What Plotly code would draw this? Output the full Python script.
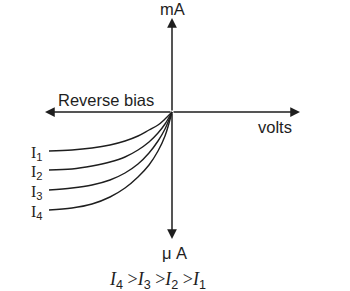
import plotly.graph_objects as go

# Data coordinates: x = volts (arbitrary units, origin at 0), y = current (arbitrary units)
curve_labels = ["1", "2", "3", "4"]
volts = [-123, -100, -80, -62, -47, -34, -23, -14, -7, 0]
current_I1 = [-39, -38, -36, -33, -29, -24, -18, -13, -7, 0]
current_I2 = [-58, -57, -54, -50, -45, -38, -30, -21, -12, 0]
current_I3 = [-78, -76, -73, -68, -61, -52, -41, -29, -17, 0]
current_I4 = [-98, -96, -92, -85, -76, -65, -53, -39, -24, 0]
currents = [current_I1, current_I2, current_I3, current_I4]

x_axis_left, x_axis_right = -127, 128
y_axis_top, y_axis_bottom = 94, -127

line_col = "#1e1e1e"
sans = "Liberation Sans"
serif = "Liberation Serif"
fig = go.Figure()

for lab, cur in zip(curve_labels, currents):
    fig.add_trace(go.Scatter(x=volts, y=cur, mode="lines", line=dict(color=line_col, width=1.4, shape="spline"),
                             showlegend=False, hoverinfo="skip"))
    fig.add_annotation(x=volts[0] - 4, y=cur[0] - 2,
                       text="I<sub><span style='font-family:Liberation Sans'>" + lab + "</span></sub>",
                       showarrow=False, xanchor="right",
                       font=dict(family=serif, size=16, color="#2a2218"))

# axes with arrows
for (tx, ty) in [(x_axis_left, 0), (x_axis_right, 0), (0, y_axis_top), (0, y_axis_bottom)]:
    fig.add_annotation(x=tx, y=ty, ax=0, ay=0, xref="x", yref="y", axref="x", ayref="y",
                       showarrow=True, arrowhead=2, arrowsize=1.3, arrowwidth=1.5, arrowcolor=line_col, text="")

fig.add_annotation(x=0, y=103, text="mA", showarrow=False, font=dict(family=sans, size=16.5, color=line_col))
fig.add_annotation(x=-66, y=12, text="Reverse bias", showarrow=False, font=dict(family=sans, size=16.5, color=line_col))
fig.add_annotation(x=103, y=-15, text="volts", showarrow=False, font=dict(family=sans, size=16.5, color=line_col))
fig.add_annotation(x=2, y=-141, text="\u03bc A", showarrow=False, font=dict(family=sans, size=16.5, color=line_col))
sub = lambda d: "<sub><span style='font-family:Liberation Sans'>" + d + "</span></sub>"
fig.add_annotation(x=-15, y=-168,
                   text="<i>I</i>" + sub("4") + " ><i>I</i>" + sub("3") + " ><i>I</i>" + sub("2") + " ><i>I</i>" + sub("1"),
                   showarrow=False, font=dict(family=serif, size=18, color=line_col))

fig.update_layout(width=350, height=291, margin=dict(l=0, r=0, t=0, b=0),
                  plot_bgcolor="white", paper_bgcolor="white",
                  xaxis=dict(range=[-172, 178], visible=False, fixedrange=True),
                  yaxis=dict(range=[-179, 112], visible=False, fixedrange=True))
fig.write_html("out.html")
